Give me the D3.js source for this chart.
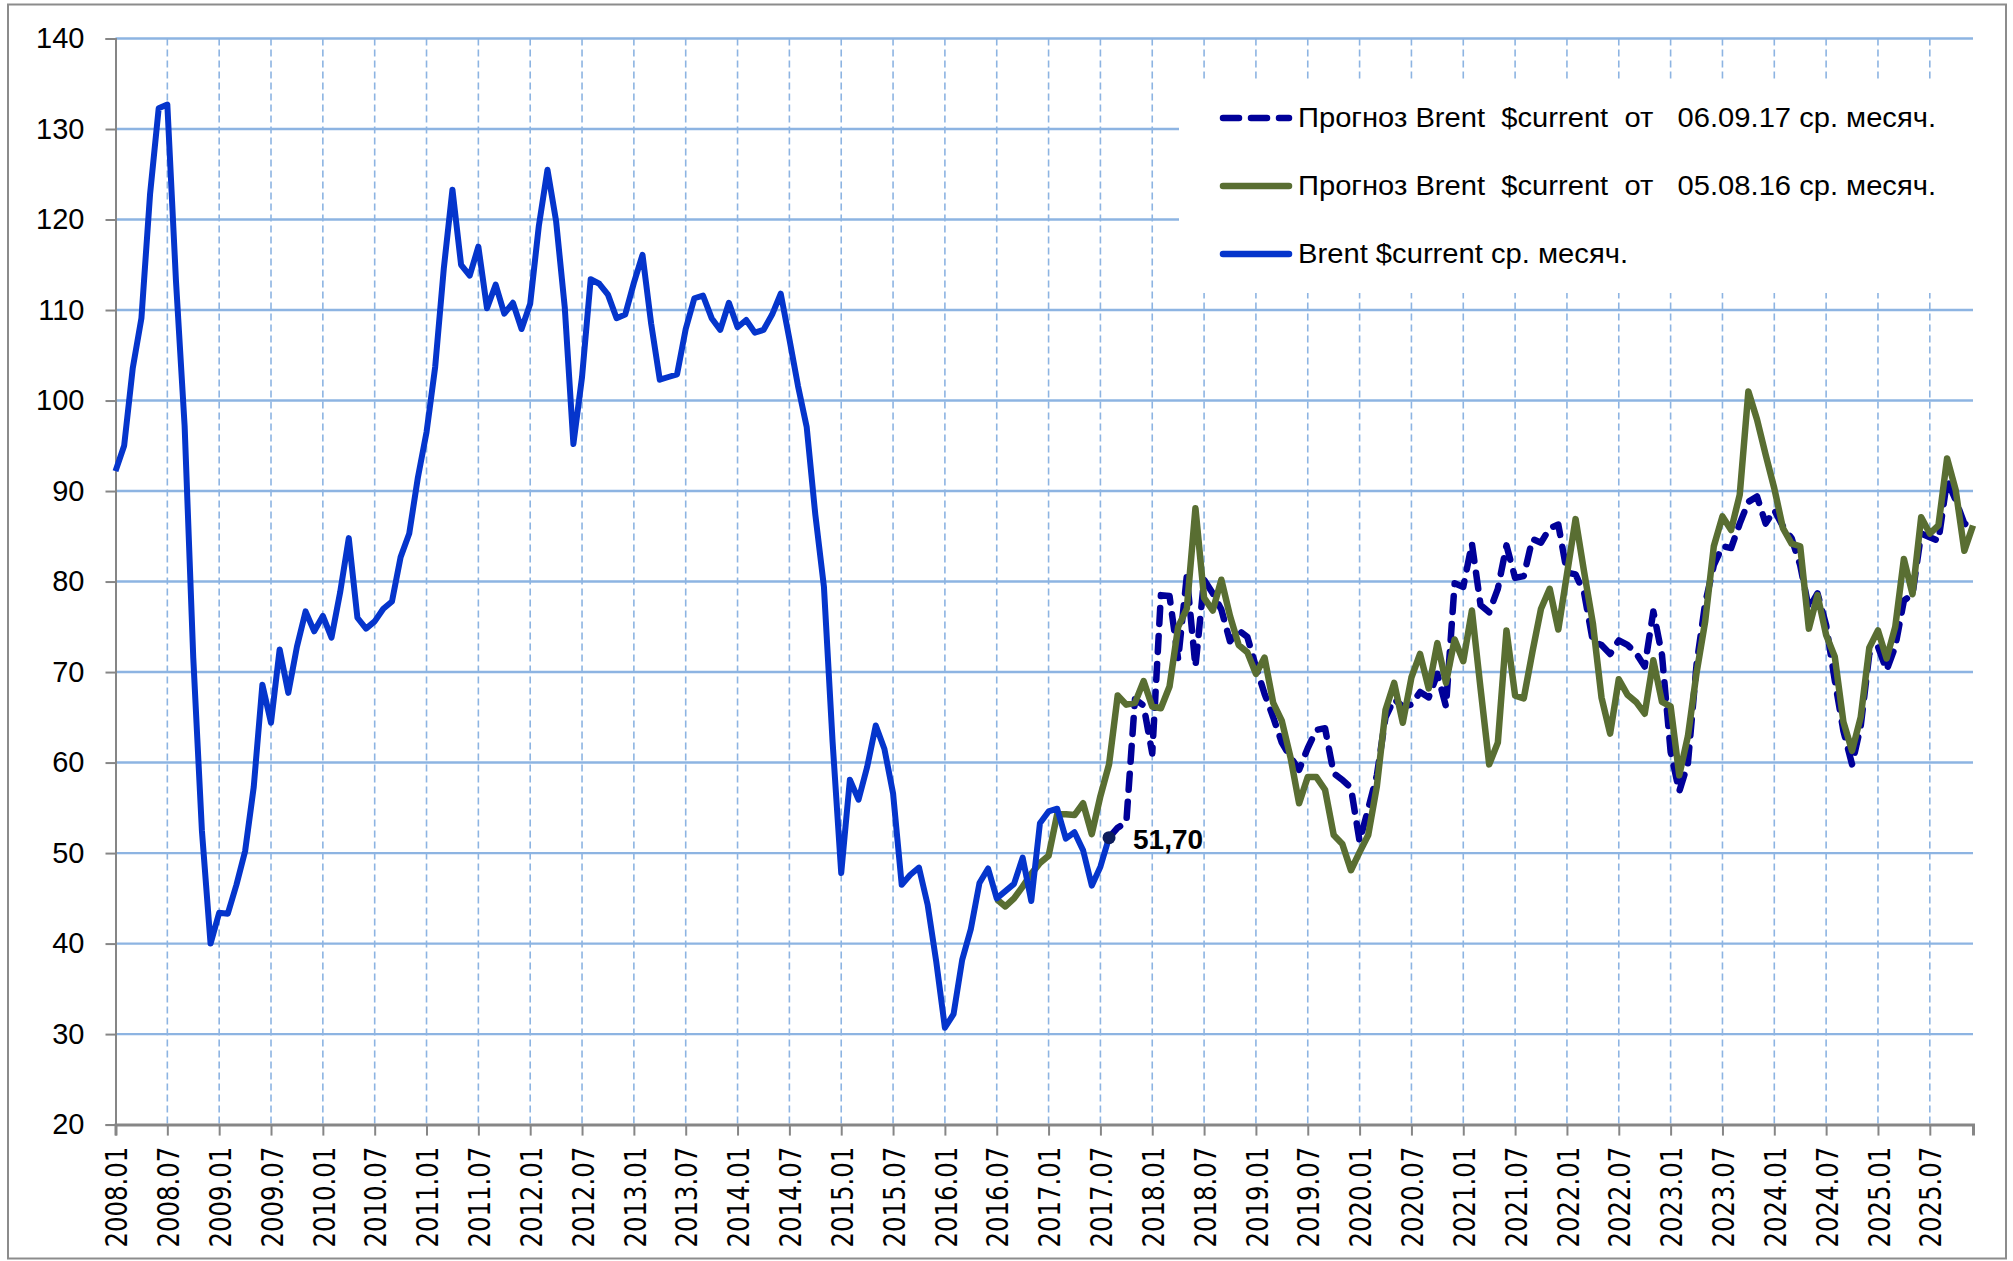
<!DOCTYPE html>
<html>
<head>
<meta charset="utf-8">
<script src="https://cdn.jsdelivr.net/npm/d3@7"></script>
<style>
  body { margin: 0; background: #fff; }
  svg text { white-space: pre; }
</style>
</head>
<body>
<script>
const width = 2013, height = 1261
const plot = ({left: 115.5, right: 1973, top: 38.5, bottom: 1124.6})

// monthly categories 2008.01 .. 2025.12
const startYear = 2008, monthCount = 216
const months = d3.range(monthCount).map(i => `${startYear + Math.floor(i / 12)}.${String(i % 12 + 1).padStart(2, '0')}`)
const tickMonths = d3.range(0, monthCount, 6)
const yTicks = [20, 30, 40, 50, 60, 70, 80, 90, 100, 110, 120, 130, 140]

// Brent $current monthly average, 2008.01 .. 2017.08
const brentStart = 0
const brentActual = [
  92.2, 95.0, 103.6, 109.1, 122.8, 132.3, 132.7, 113.2, 97.2, 71.6, 52.5, 40.0,
  43.4, 43.3, 46.5, 50.2, 57.3, 68.6, 64.4, 72.5, 67.7, 72.8, 76.7, 74.5,
  76.2, 73.8, 78.8, 84.8, 76.0, 74.8, 75.6, 77.0, 77.8, 82.7, 85.3, 91.5,
  96.5, 103.7, 114.6, 123.3, 115.0, 113.8, 117.0, 110.2, 112.8, 109.6, 110.8, 107.9,
  110.7, 119.3, 125.5, 119.8, 110.3, 95.2, 102.6, 113.4, 112.9, 111.7, 109.1, 109.5,
  113.0, 116.1, 108.5, 102.3, 102.6, 102.9, 107.9, 111.3, 111.6, 109.1, 107.8, 110.8,
  108.1, 108.9, 107.5, 107.8, 109.5, 111.8, 106.8, 101.6, 97.1, 87.4, 79.4, 62.3,
  47.8, 58.1, 55.9, 59.5, 64.1, 61.5, 56.6, 46.5, 47.6, 48.4, 44.3, 38.0,
  30.7, 32.2, 38.2, 41.6, 46.7, 48.3, 45.0, 45.8, 46.6, 49.5, 44.7, 53.3,
  54.6, 54.9, 51.6, 52.3, 50.3, 46.4, 48.5, 51.7
]

// forecast of 05.08.16, from 2016.07
const forecast16Start = 102
const forecast16 = [
  44.9, 44.1, 45.0, 46.3, 47.7, 48.9, 49.7, 54.3, 54.3, 54.2, 55.5, 52.1,
  56.3, 59.8, 67.4, 66.4, 66.6, 69.0, 66.2, 66.0, 68.4, 75.0, 77.0, 88.1,
  78.2, 76.8, 80.2, 76.2, 73.0, 72.2, 69.8, 71.6, 66.6, 64.6, 60.6, 55.5,
  58.4, 58.4, 57.0, 52.0, 51.0, 48.1, 50.1, 52.0, 57.4, 65.8, 68.8, 64.4,
  69.4, 72.0, 68.2, 73.2, 68.8, 73.6, 71.2, 76.8, 68.2, 59.8, 62.2, 74.6,
  67.4, 67.1, 72.2, 77.0, 79.2, 74.7, 80.8, 86.9, 81.0, 75.4, 67.2, 63.2,
  69.2, 67.5, 66.7, 65.4, 71.3, 66.7, 66.2, 58.6, 62.9, 69.9, 75.6, 83.9,
  87.2, 85.7, 89.6, 101.0, 97.9, 94.0, 90.3, 85.9, 84.2, 83.9, 74.8, 78.5,
  74.1, 71.7, 64.5, 61.3, 65.0, 72.7, 74.6, 71.5, 75.0, 82.5, 78.6, 87.1,
  85.3, 86.2, 93.6, 90.1, 83.4, 86.2
]

// forecast of 06.09.17, from 2017.08
const forecast17Start = 115
const forecast17 = [
  51.7, 52.8, 53.4, 67.0, 66.3, 61.0, 78.5, 78.4, 71.4, 80.6, 70.6, 80.2,
  78.7, 76.9, 73.4, 74.6, 73.9, 70.6, 67.6, 65.0, 62.2, 60.6, 59.2, 61.6,
  63.6, 63.8, 58.8, 58.1, 57.2, 51.3, 54.9, 58.6, 65.0, 67.0, 66.2, 66.4,
  67.8, 67.2, 69.8, 66.2, 79.8, 79.4, 84.2, 77.4, 76.6, 79.2, 84.0, 80.4,
  80.6, 84.7, 84.3, 85.9, 86.3, 81.0, 80.8, 78.7, 73.4, 73.0, 72.0, 73.5,
  73.0, 72.1, 70.6, 76.7, 71.9, 61.2, 56.8, 59.9, 70.8, 77.6, 81.8, 83.9,
  83.7, 86.4, 88.8, 89.4, 86.4, 87.9, 86.1, 84.8, 81.8, 77.0, 78.7, 75.2,
  69.1, 63.5, 59.8, 64.0, 72.0, 72.8, 70.2, 72.8, 77.9, 78.6, 85.3, 84.9,
  84.5, 91.2, 89.0, 86.4, 86.0
]

const markerMonth = 115, markerLabel = "51,70"

const legendItems = [
  {label: "Прогноз Brent  $current  от   06.09.17 ср. месяч.", color: "#000099", dash: "16,12", len: 638},
  {label: "Прогноз Brent  $current  от   05.08.16 ср. месяч.", color: "#596E32", dash: null, len: 638},
  {label: "Brent $current ср. месяч.", color: "#0535CC", dash: null, len: 330}
]

const gridColor = "#8DB4E2", axisColor = "#868686"
const numFont = "'Liberation Sans', Arial, sans-serif"

const x = d3.scaleLinear([0, monthCount - 1], [plot.left, plot.right])
const y = d3.scaleLinear([20, 140], [plot.bottom, plot.top])

const svg = d3.select("body").append("svg")
    .attr("width", width)
    .attr("height", height)

svg.append("rect")
    .attr("x", 8).attr("y", 4.5)
    .attr("width", 1998).attr("height", 1254)
    .attr("fill", "#fff")
    .attr("stroke", "#8c8c8c")
    .attr("stroke-width", 2)

// grid
svg.append("g")
  .selectAll("line")
  .data(tickMonths.filter(d => d > 0))
  .join("line")
    .attr("x1", d => x(d)).attr("x2", d => x(d))
    .attr("y1", y(140)).attr("y2", y(20))
    .attr("stroke", gridColor)
    .attr("stroke-width", 1.6)
    .attr("stroke-dasharray", "7,4")

svg.append("g")
  .selectAll("line")
  .data(yTicks.filter(d => d > 20))
  .join("line")
    .attr("x1", plot.left).attr("x2", plot.right)
    .attr("y1", d => y(d)).attr("y2", d => y(d))
    .attr("stroke", gridColor)
    .attr("stroke-width", 2.4)

// legend background hides the grid under it
const legend = svg.append("g")
legend.append("rect")
    .attr("x", 1179).attr("y", 82)
    .attr("width", plot.right - 1179 + 1).attr("height", 211)
    .attr("fill", "#fff")

// axes
const yAxis = d3.axisLeft(y).tickValues(yTicks).tickSize(10).tickPadding(21)
svg.append("g")
    .attr("transform", `translate(${plot.left},0)`)
    .call(yAxis)
    .call(g => g.select(".domain").attr("stroke", axisColor).attr("stroke-width", 2))
    .call(g => g.selectAll(".tick line").attr("stroke", axisColor).attr("stroke-width", 2))
    .call(g => g.selectAll(".tick text")
        .attr("font-family", numFont)
        .attr("font-size", 29)
        .attr("fill", "#000"))

const xAxis = d3.axisBottom(x).tickValues(tickMonths).tickSize(11).tickFormat(d => months[d])
svg.append("g")
    .attr("transform", `translate(0,${plot.bottom})`)
    .call(xAxis)
    .call(g => g.select(".domain").attr("stroke", axisColor).attr("stroke-width", 3))
    .call(g => g.selectAll(".tick line").attr("stroke", axisColor).attr("stroke-width", 2))
    .call(g => g.selectAll(".tick text")
        .attr("font-family", "'DejaVu Sans', Verdana, sans-serif")
        .attr("font-size", 31)
        .attr("fill", "#000")
        .attr("text-anchor", "end")
        .attr("textLength", 101)
        .attr("lengthAdjust", "spacingAndGlyphs")
        .attr("transform", "translate(0,22) rotate(-90)")
        .attr("x", 0).attr("y", 0)
        .attr("dy", "0.36em"))

// series
const line = start => d3.line()
    .x((d, i) => x(start + i))
    .y(d => y(d))

svg.append("path")
    .attr("d", line(forecast17Start)(forecast17))
    .attr("fill", "none")
    .attr("stroke", legendItems[0].color)
    .attr("stroke-width", 6.5)
    .attr("stroke-dasharray", legendItems[0].dash)
    .attr("stroke-linecap", "round")
    .attr("stroke-linejoin", "round")

svg.append("path")
    .attr("d", line(forecast16Start)(forecast16))
    .attr("fill", "none")
    .attr("stroke", legendItems[1].color)
    .attr("stroke-width", 6.5)
    .attr("stroke-linejoin", "round")

svg.append("path")
    .attr("d", line(brentStart)(brentActual))
    .attr("fill", "none")
    .attr("stroke", legendItems[2].color)
    .attr("stroke-width", 6)
    .attr("stroke-linejoin", "round")

const markerValue = forecast17[markerMonth - forecast17Start]
svg.append("circle")
    .attr("cx", x(markerMonth)).attr("cy", y(markerValue))
    .attr("r", 6.5)
    .attr("fill", "#0D1D5C")

svg.append("text")
    .attr("x", x(markerMonth) + 24)
    .attr("y", y(markerValue) + 2)
    .attr("dy", "0.35em")
    .attr("font-family", numFont)
    .attr("font-weight", "bold")
    .attr("font-size", 28)
    .text(markerLabel)

// legend
const rowY = [118, 186, 254]
legendItems.forEach((d, i) => {
  legend.append("line")
      .attr("x1", 1223).attr("x2", 1289)
      .attr("y1", rowY[i]).attr("y2", rowY[i])
      .attr("stroke", d.color)
      .attr("stroke-width", 6.5)
      .attr("stroke-linecap", "round")
      .attr("stroke-dasharray", d.dash)
  legend.append("text")
      .attr("x", 1298)
      .attr("y", rowY[i] + 9)
      .attr("font-family", "'Liberation Sans Narrow', 'Liberation Sans', sans-serif")
      .attr("font-size", 27)
      .attr("textLength", d.len)
      .attr("lengthAdjust", "spacingAndGlyphs")
      .text(d.label)
})
</script>
</body>
</html>
